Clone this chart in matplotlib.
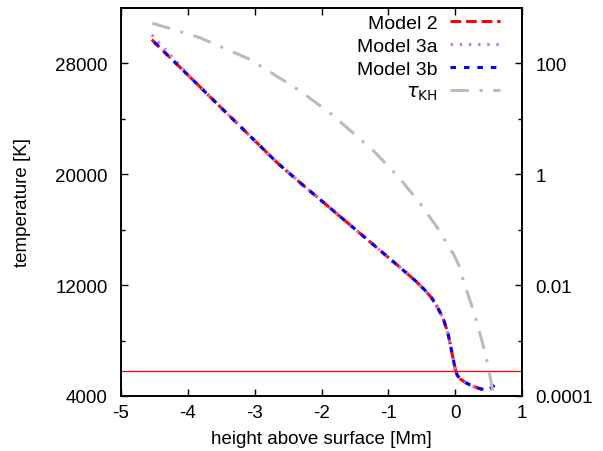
import numpy as np
import matplotlib
matplotlib.use("Agg")
import matplotlib.pyplot as plt
from matplotlib.ticker import FixedLocator, FuncFormatter, NullFormatter

plt.rcParams["font.family"] = ["Liberation Sans", "DejaVu Sans"]
plt.rcParams["font.size"] = 13.5
plt.rcParams["axes.unicode_minus"] = False

# temperature profiles (height in Mm, T in K)
h_m2 = [-4.54, -4.0, -3.5, -3.0, -2.67, -2.3, -2.0, -1.5, -1.0, -0.75, -0.6, -0.45, -0.35,
        -0.28, -0.22, -0.17, -0.13, -0.10, -0.05, -0.02, 0.0, 0.03, 0.075, 0.15, 0.225, 0.35,
        0.475]
T_m2 = [29700, 27150, 24780, 22420, 20850, 19300, 18080, 16040, 13990, 12960, 12330, 11620,
        11060, 10520, 9980, 9450, 8850, 8350, 7150, 6450, 5950, 5500, 5230, 4980, 4790, 4560,
        4380]

h_m3a = [-4.54, -4.0, -3.5, -3.0, -2.67, -2.3, -2.0, -1.5, -1.0, -0.75, -0.6, -0.45, -0.35,
         -0.28, -0.22, -0.17, -0.13, -0.10, -0.05, -0.02, 0.0, 0.03, 0.075, 0.15, 0.225, 0.35,
         0.475, 0.55]
T_m3a = [30050, 27200, 24780, 22420, 20850, 19300, 18080, 16040, 13990, 12960, 12330, 11620,
         11060, 10520, 9980, 9450, 8850, 8350, 7150, 6450, 5950, 5500, 5230, 4980, 4790, 4560,
         4400, 4550]

h_m3b = [-4.50, -4.0, -3.5, -3.0, -2.67, -2.3, -2.0, -1.5, -1.0, -0.75, -0.6, -0.45, -0.35,
         -0.28, -0.22, -0.17, -0.13, -0.10, -0.05, -0.02, 0.0, 0.03, 0.075, 0.15, 0.225, 0.35,
         0.475, 0.60]
T_m3b = [29500, 27150, 24780, 22420, 20850, 19300, 18080, 16040, 13990, 12960, 12330, 11620,
         11060, 10520, 9980, 9450, 8850, 8350, 7150, 6450, 5950, 5500, 5230, 4980, 4790, 4560,
         4380, 4800]

# Kelvin-Helmholtz timescale (right axis)
h_tau = [-4.53, -4.2, -3.82, -3.07, -2.32, -1.85, -1.22, -0.82, -0.52, -0.27, -0.025,
         0.05, 0.13, 0.27, 0.40, 0.47, 0.52, 0.57]
tau_kh = [525, 400, 288, 117, 31.6, 12.0, 2.63, 0.81, 0.29, 0.11, 0.036,
          0.0234, 0.0112, 0.00355, 0.001, 0.00045, 0.00023, 0.00011]

T_line = 5800

fig = plt.figure(figsize=(6.03, 4.52), dpi=100)
ax = fig.add_axes([0.2007, 0.1217, 0.665, 0.859])
ax2 = ax.twinx()

l1, = ax.plot(h_m2, T_m2, color="red", lw=2.2, dashes=(3.5, 1.6), label="Model 2")
l2, = ax.plot(h_m3a, T_m3a, color="#b07fff", lw=2.2, dashes=(0.8, 2.2), label="Model 3a")
l3, = ax.plot(h_m3b, T_m3b, color="blue", lw=2.2, dashes=(1.8, 2.6), label="Model 3b")
ax.axhline(T_line, color="red", lw=0.9)
l4, = ax2.plot(h_tau, tau_kh, color="#bbbbbb", lw=2.2, dashes=(6, 3.5, 1, 3.5),
               label=r"$\tau_{\mathrm{KH}}$")

ax.set_xlim(-5, 1)
ax.set_ylim(4000, 32000)
ax2.set_yscale("log")
ax2.set_ylim(1e-4, 1e3)

ax.set_xticks([-5, -4, -3, -2, -1, 0, 1])
ax.yaxis.set_major_locator(FixedLocator([4000, 12000, 20000, 28000]))
ax.yaxis.set_minor_locator(FixedLocator([8000, 16000, 24000]))
ax2.yaxis.set_major_locator(FixedLocator([1e-4, 1e-2, 1, 1e2]))
ax2.yaxis.set_minor_locator(FixedLocator([1e-3, 1e-1, 10]))
ax2.yaxis.set_minor_formatter(NullFormatter())
ax2.yaxis.set_major_formatter(FuncFormatter(lambda v, p: "%g" % v))

ax.tick_params(axis="x", which="both", direction="in", top=True, length=5, width=1, pad=6)
ax.tick_params(axis="y", which="major", direction="in", length=5, width=1, pad=9.5)
ax.tick_params(axis="y", which="minor", direction="in", length=3, width=1)
ax2.tick_params(axis="y", which="major", direction="in", length=5, width=1, pad=9.7)
ax2.tick_params(axis="y", which="minor", direction="in", length=3, width=1)

for a in (ax, ax2):
    for s in a.spines.values():
        s.set_linewidth(1.2)

ax.set_xlabel("height above surface [Mm]", labelpad=6)
ax.set_ylabel("temperature [K]", labelpad=17.5)

ax.legend(handles=[l1, l2, l3, l4], loc="upper right", bbox_to_anchor=(0.955, 0.993),
          frameon=False, markerfirst=False, handlelength=2.6, fontsize=14,
          borderaxespad=0, labelspacing=0.28, handletextpad=0.6, borderpad=0.2)

fig.savefig("out.png", dpi=100)
